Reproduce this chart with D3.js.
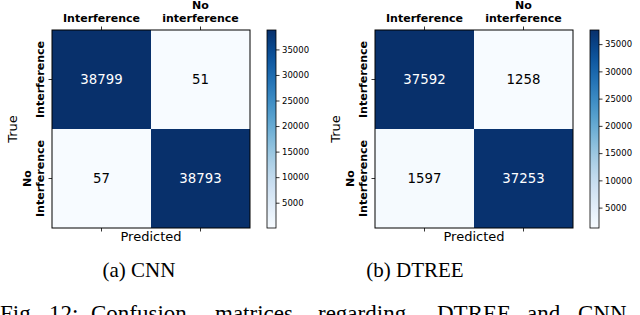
<!DOCTYPE html>
<meta charset="utf-8">
<body style="margin:0;background:#fff">
<script src="https://d3js.org/d3.v7.min.js"></script>
<script>

var width = 640,
    height = 315;

// data
var colLabels = [["Interference"], ["No", "interference"]],
    rowLabels = [["Interference"], ["No", "Interference"]];
var cnn = [[38799, 51], [57, 38793]],
    dtree = [[37592, 1258], [1597, 37253]];
var cbarTicks = [5000, 10000, 15000, 20000, 25000, 30000, 35000];
var captions = ["(a) CNN", "(b) DTREE"];
var figWords = ["Fig.", "12:", "Confusion", "matrices", "regarding", "DTREE", "and", "CNN"];

var panels = [
  {data: cnn, caption: captions[0], left: 52, capX: 139},
  {data: dtree, caption: captions[1], left: 375, capX: 415}
];

var marginTop = 30, size = 198, cbarGap = 17, cbarW = 9;

var svg = d3.select("body").append("svg")
    .attr("width", width)
    .attr("height", height)
    .style("font-family", "DejaVu Sans, sans-serif");

var defs = svg.append("defs");

panels.forEach(function(p, pi) {
  var flat = d3.merge(p.data),
      lo = d3.min(flat), hi = d3.max(flat);
  var color = d3.scaleSequential(d3.interpolateBlues).domain([lo, hi]);

  var x = d3.scaleBand().domain([0, 1]).range([0, size]),
      y = d3.scaleBand().domain([0, 1]).range([0, size]);

  var g = svg.append("g").attr("transform", "translate(" + p.left + "," + marginTop + ")");

  var cells = [];
  p.data.forEach(function(row, i) {
    row.forEach(function(v, j) { cells.push({i: i, j: j, v: v}); });
  });

  g.selectAll("rect.cell")
      .data(cells)
    .enter().append("rect")
      .attr("class", "cell")
      .attr("x", d => x(d.j))
      .attr("y", d => y(d.i))
      .attr("width", x.bandwidth())
      .attr("height", y.bandwidth())
      .attr("fill", d => color(d.v));

  g.selectAll("text.val")
      .data(cells)
    .enter().append("text")
      .attr("class", "val")
      .attr("x", d => x(d.j) + x.bandwidth() / 2)
      .attr("y", d => y(d.i) + y.bandwidth() / 2)
      .attr("dy", "0.36em")
      .attr("text-anchor", "middle")
      .style("font-size", "13.3px")
      .attr("fill", d => d.v > (lo + hi) / 2 ? "#fff" : "#000")
      .text(d => d.v);

  g.append("rect")
      .attr("width", size).attr("height", size)
      .attr("fill", "none").attr("stroke", "#000").attr("stroke-width", 1);

  // axes: ticks only, labels drawn by hand for the two-line ones
  var topAxis = g.append("g").call(d3.axisTop(x).tickSize(3.5).tickFormat(""));
  var botAxis = g.append("g").attr("transform", "translate(0," + size + ")")
      .call(d3.axisBottom(x).tickSize(3.5).tickFormat(""));
  var leftAxis = g.append("g").call(d3.axisLeft(y).tickSize(3.5).tickFormat(""));
  [topAxis, botAxis, leftAxis].forEach(function(a) {
    a.select(".domain").remove();
    a.selectAll("line").attr("stroke", "#000").attr("stroke-width", 0.8);
  });

  colLabels.forEach(function(lines, j) {
    var t = g.append("text")
        .attr("text-anchor", "middle")
        .style("font-size", "11px").style("font-weight", "bold");
    lines.forEach(function(s, k) {
      t.append("tspan")
          .attr("x", x(j) + x.bandwidth() / 2)
          .attr("y", -8.3 - (lines.length - 1 - k) * 12.6)
          .text(s);
    });
  });

  rowLabels.forEach(function(lines, i) {
    var cy = y(i) + y.bandwidth() / 2;
    var t = g.append("text")
        .attr("text-anchor", "middle")
        .attr("transform", "translate(-8," + cy + ") rotate(-90)")
        .style("font-size", "11px").style("font-weight", "bold");
    lines.forEach(function(s, k) {
      t.append("tspan")
          .attr("x", 0)
          .attr("y", -(lines.length - 1 - k) * 12.6)
          .text(s);
    });
  });

  g.append("text")
      .attr("text-anchor", "middle")
      .attr("transform", "translate(-35.5," + size / 2 + ") rotate(-90)")
      .style("font-size", "13px")
      .text("True");

  g.append("text")
      .attr("x", size / 2).attr("y", size + 12.8)
      .attr("text-anchor", "middle")
      .style("font-size", "13px")
      .text("Predicted");

  // colorbar
  var gid = "grad" + pi;
  var grad = defs.append("linearGradient").attr("id", gid)
      .attr("x1", 0).attr("y1", 1).attr("x2", 0).attr("y2", 0);
  d3.range(0, 1.0001, 0.05).forEach(function(t) {
    grad.append("stop").attr("offset", t).attr("stop-color", color(lo + t * (hi - lo)));
  });

  var cy = d3.scaleLinear().domain([lo, hi]).range([size, 0]);
  var cb = g.append("g").attr("transform", "translate(" + (size + cbarGap) + ",0)");
  cb.append("rect")
      .attr("width", cbarW).attr("height", size)
      .attr("fill", "url(#" + gid + ")")
      .attr("stroke", "#000").attr("stroke-width", 0.8);
  var cbAxis = cb.append("g").attr("transform", "translate(" + cbarW + ",0)")
      .call(d3.axisRight(cy).tickValues(cbarTicks).tickFormat(d3.format("d"))
        .tickSize(3.5).tickPadding(2.5));
  cbAxis.select(".domain").remove();
  cbAxis.selectAll("line").attr("stroke", "#000").attr("stroke-width", 0.8);
  cbAxis.selectAll("text")
      .style("font-size", "8.5px")
      .style("font-family", "DejaVu Sans, sans-serif")
      .attr("fill", "#000");

  svg.append("text")
      .attr("x", p.capX).attr("y", 277)
      .attr("text-anchor", "middle")
      .style("font-family", "Liberation Serif, serif")
      .style("font-size", "21px")
      .text(p.caption);
});

// figure caption line, cut off at the bottom edge
var wordX = [0, 49, 91, 215, 318, 437, 527, 578];
svg.append("g").selectAll("text")
    .data(figWords)
  .enter().append("text")
    .attr("x", (d, i) => wordX[i])
    .attr("y", 321)
    .style("font-family", "Liberation Serif, serif")
    .style("font-size", "23px")
    .text(d => d);

</script>
